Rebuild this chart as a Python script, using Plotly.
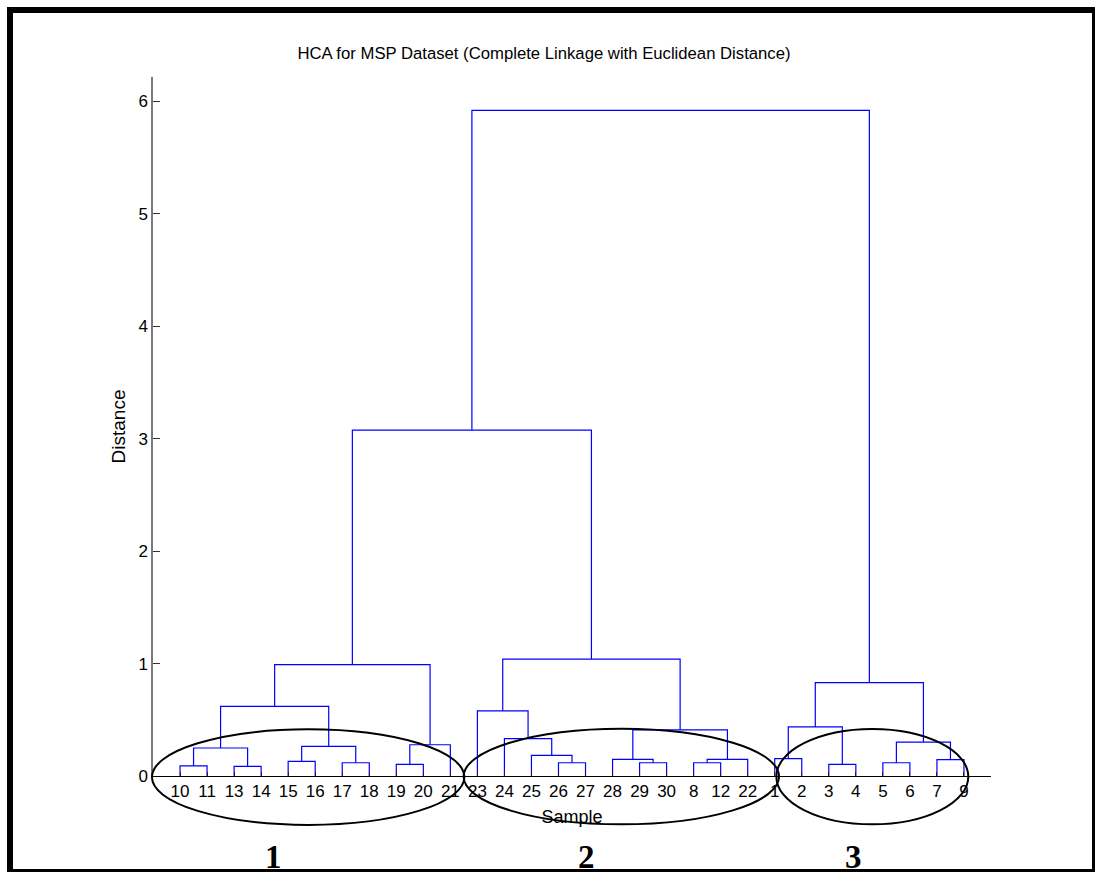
import plotly.graph_objects as go

# Sample labels in dendrogram leaf order (left to right)
leaf_order = [10, 11, 13, 14, 15, 16, 17, 18, 19, 20, 21,
              23, 24, 25, 26, 27, 28, 29, 30, 8, 12, 22,
              1, 2, 3, 4, 5, 6, 7, 9]

# Complete-linkage merges: ids 1..30 are samples, merge k creates cluster 31+k
link_left = [13, 10, 3, 19, 17, 26, 29, 8, 5, 15, 7, 28, 38, 1, 25,
             32, 40, 34, 39, 24, 42, 44, 23, 46, 52, 54, 53, 56, 58]
link_right = [14, 11, 4, 20, 18, 27, 30, 12, 6, 16, 9, 37, 22, 2, 36,
              31, 35, 21, 41, 45, 43, 33, 50, 47, 49, 48, 51, 57, 55]
link_height = [0.085, 0.09, 0.104, 0.104, 0.118, 0.118, 0.118, 0.118, 0.118,
               0.13, 0.145, 0.148, 0.148, 0.154, 0.184, 0.249, 0.264, 0.278,
               0.302, 0.332, 0.41, 0.436, 0.58, 0.62, 0.83, 0.99, 1.04,
               3.076, 5.92]

# Circled sample groups (span in leaf positions / distance units) and their labels
group_names = ["1", "2", "3"]
group_x0 = [-0.04, 11.49, 23.06]
group_x1 = [11.52, 23.16, 30.16]
group_y0 = [-0.435, -0.43, -0.43]
group_y1 = [0.415, 0.42, 0.418]
group_label_x = [4.45, 16.05, 25.9]

W, H = 1097, 872
ML, MR, MT, MB = 153, 106, 77, 96
PW, PH = W - ML - MR, H - MT - MB

n_leaves = len(leaf_order)
X_MIN, X_MAX = 0, n_leaves + 1
Y_MIN, Y_MAX = 0, 1.05 * max(link_height)

# Build the dendrogram U-shaped links
pos = {leaf: i + 1 for i, leaf in enumerate(leaf_order)}
hgt = {leaf: 0.0 for leaf in leaf_order}
xs, ys = [], []
for k, (a, b, h) in enumerate(zip(link_left, link_right, link_height)):
    xa, xb = pos[a], pos[b]
    xs += [xa, xa, xb, xb, None]
    ys += [hgt[a], h, h, hgt[b], None]
    pos[n_leaves + 1 + k] = (xa + xb) / 2
    hgt[n_leaves + 1 + k] = h

fig = go.Figure()
fig.add_trace(go.Scatter(x=xs, y=ys, mode="lines",
                         line=dict(color="#0000ff", width=1.2),
                         hoverinfo="skip", showlegend=False))


def data_to_paper_x(v):
    return (v - X_MIN) / (X_MAX - X_MIN)


def data_to_paper_y(v):
    return (v - Y_MIN) / (Y_MAX - Y_MIN)


def px_to_paper_x(p):
    return (p - ML) / PW


def px_to_paper_y(p):
    return (H - MB - p) / PH


shapes = []
for x0, x1, y0, y1 in zip(group_x0, group_x1, group_y0, group_y1):
    shapes.append(dict(type="circle", xref="paper", yref="paper",
                       x0=data_to_paper_x(x0), x1=data_to_paper_x(x1),
                       y0=data_to_paper_y(y0), y1=data_to_paper_y(y1),
                       line=dict(color="black", width=2), layer="above"))

# Outer black frame
for (a, b, c, d) in [(7, 7, 1095, 13), (7, 7, 13, 872), (1092, 7, 1095, 872), (7, 869, 1095, 872)]:
    shapes.append(dict(type="rect", xref="paper", yref="paper",
                       x0=px_to_paper_x(a), x1=px_to_paper_x(c),
                       y0=px_to_paper_y(d), y1=px_to_paper_y(b),
                       fillcolor="black", line=dict(width=0), layer="above"))

annotations = []
for name, gx in zip(group_names, group_label_x):
    annotations.append(dict(text="<b>%s</b>" % name, x=data_to_paper_x(gx),
                            y=data_to_paper_y(-0.72), xref="paper", yref="paper",
                            xanchor="center", yanchor="middle", showarrow=False,
                            font=dict(family="Liberation Serif, Times New Roman, serif",
                                      size=33, color="black")))

sans = "Liberation Sans, Arial, Helvetica, sans-serif"
fig.update_layout(
    width=W, height=H,
    margin=dict(l=ML, r=MR, t=MT, b=MB),
    paper_bgcolor="white", plot_bgcolor="white",
    title=dict(text="HCA for MSP Dataset (Complete Linkage with Euclidean Distance)",
               x=544 / W, xanchor="center", y=1 - 53 / H, yanchor="middle",
               font=dict(family=sans, size=16.7, color="black")),
    xaxis=dict(range=[X_MIN, X_MAX], tickmode="array",
               tickvals=list(range(1, n_leaves + 1)),
               ticktext=[str(v) for v in leaf_order],
               ticks="inside", ticklen=4, tickcolor="#222", tickwidth=1,
               showline=True, linecolor="black", linewidth=1,
               showgrid=False, zeroline=False,
               tickfont=dict(family=sans, size=17, color="black"),
               title=dict(text="Sample", standoff=9,
                          font=dict(family=sans, size=18, color="black"))),
    yaxis=dict(range=[Y_MIN, Y_MAX], tickmode="array",
               tickvals=[0, 1, 2, 3, 4, 5, 6],
               ticks="inside", ticklen=7, tickcolor="#333", tickwidth=1,
               showline=True, linecolor="#7a7a7a", linewidth=1.5,
               showgrid=False, zeroline=False,
               tickfont=dict(family=sans, size=17, color="black"),
               title=dict(text="Distance", standoff=8,
                          font=dict(family=sans, size=19, color="black"))),
    shapes=shapes,
    annotations=annotations,
)

fig.write_html("out.html")
